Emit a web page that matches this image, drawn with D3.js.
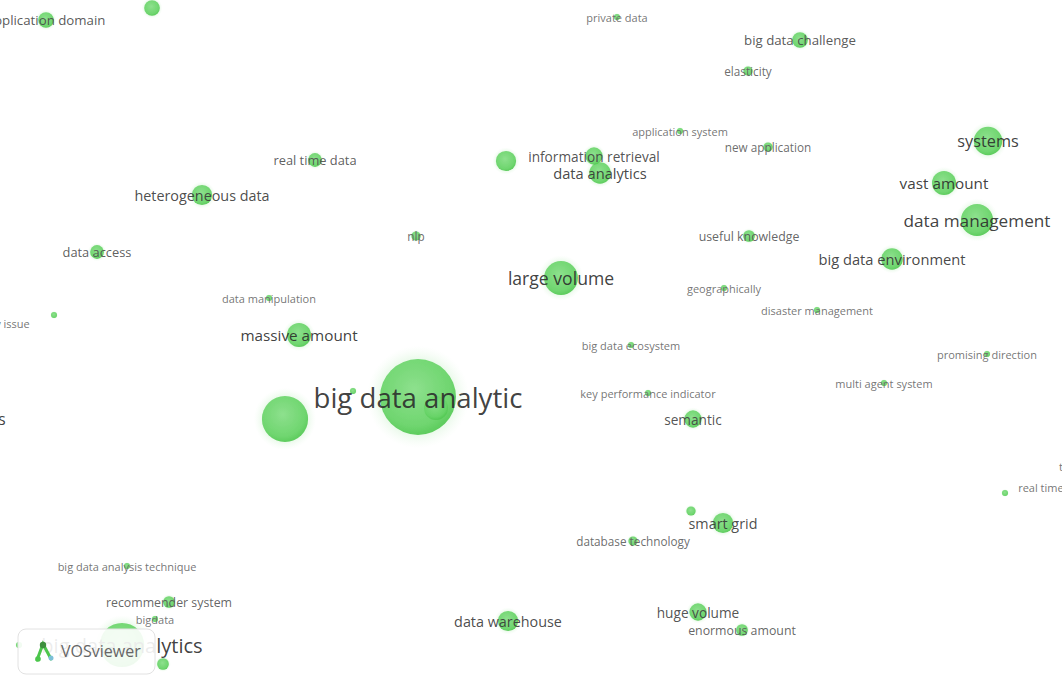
<!DOCTYPE html>
<html><head><meta charset="utf-8">
<script src="https://cdn.jsdelivr.net/npm/d3@7/dist/d3.min.js"></script>
<style>html,body{margin:0;padding:0;background:#fff;overflow:hidden}svg{display:block}</style>
</head><body>
<svg id="map" width="1062" height="676"></svg>
<script>
// VOSviewer term map (zoomed view) – map coordinates and occurrence weights
const labels = [
 "application domain","","private data","big data challenge","elasticity","application system",
 "new application","systems","real time data","information retrieval","data analytics","",
 "heterogeneous data","vast amount","data management","data access","nlp","useful knowledge",
 "big data environment","large volume","geographically","disaster management","data manipulation","privacy issue",
 "","massive amount","big data ecosystem","promising direction","multi agent system","key performance indicator",
 "big data analytic","","","big data applications","semantic","",
 "real time processing","text mining","smart grid","","database technology","big data analysis technique",
 "recommender system","bigdata","big data analytics","","data warehouse","huge volume",
 "enormous amount","",""
];
const mapX = [
 -4.85,-3.79, 0.86, 2.69, 2.17, 1.49,
  2.37, 4.57,-2.16, 0.63, 0.69,-0.25,
 -3.29, 4.13, 4.46,-4.34,-1.15, 2.18,
  3.61, 0.30, 1.93, 2.86,-2.62,-5.34,
 -4.77,-2.32, 1.00, 4.56, 3.53, 1.17,
 -1.13,-2.46,-0.95,-6.00, 1.62, 4.74,
  5.39, 5.57, 1.92, 1.60, 1.02,-4.04,
 -3.62,-3.76,-4.09,-3.68,-0.23, 1.67,
  2.11,-5.12,-1.78
];
const mapY = [
  3.18, 3.30, 3.21, 2.98, 2.67, 2.07,
  1.91, 1.97, 1.78, 1.82, 1.65, 1.77,
  1.43, 1.55, 1.18, 0.86, 1.02, 1.02,
  0.79, 0.60, 0.50, 0.28, 0.40, 0.15,
  0.23, 0.03,-0.07,-0.16,-0.45,-0.55,
 -0.59,-0.81,-0.70,-0.81,-0.81,-1.55,
 -1.49,-1.28,-1.85,-1.73,-2.03,-2.28,
 -2.64,-2.81,-3.07,-3.26,-2.83,-2.74,
 -2.92,-3.07,-0.53
];
const weights = [
  5, 5, 1, 5, 2, 1,
  2,15, 4, 6, 9, 8,
  8,11,19, 4, 2, 3,
  9,21, 1, 1, 1, 1,
  1,11, 1, 1, 1, 1,
100,38,11,12, 6, 1,
  1, 1, 8, 2, 2, 1,
  3, 1,35, 3, 8, 6,
  3, 1, 1
];

const W = 1062, H = 676;
const svg = d3.select("#map");
const x = d3.scaleLinear().domain([-5.31, 5.31]).range([0, W]);
const y = d3.scaleLinear().domain([3.38, -3.38]).range([0, H]);
const r = d3.scaleSqrt().domain([1, 100]).range([3, 38]);
const fontSize = d3.scaleLinear().domain([3, 38]).range([11, 27.6]);
const labelShade = d3.scaleLinear().domain([3, 12]).range(["#666666", "#2a2a2a"]).clamp(true);

const nodes = labels.map((l, i) => ({label: l, x: mapX[i], y: mapY[i], w: weights[i]}))
  .sort((a, b) => b.w - a.w);

const defs = svg.append("defs");
const grad = defs.append("radialGradient").attr("id", "ng").attr("cx", "45%").attr("cy", "40%").attr("r", "60%");
grad.append("stop").attr("offset", "0%").attr("stop-color", "#86de86");
grad.append("stop").attr("offset", "80%").attr("stop-color", "#66d366");
grad.append("stop").attr("offset", "100%").attr("stop-color", "#52c852");
const halo = defs.append("radialGradient").attr("id", "halo");
halo.append("stop").attr("offset", "65%").attr("stop-color", "#a6e8a6").attr("stop-opacity", 0.35);
halo.append("stop").attr("offset", "100%").attr("stop-color", "#d8f5d8").attr("stop-opacity", 0);
defs.append("filter").attr("id", "soft").append("feGaussianBlur").attr("stdDeviation", 0.6);

const gN = svg.append("g");
gN.selectAll("circle.halo").data(nodes).join("circle").attr("class", "halo")
  .attr("cx", d => x(d.x)).attr("cy", d => y(d.y)).attr("r", d => r(d.w) * 1.35)
  .attr("fill", "url(#halo)");
gN.selectAll("circle.node").data(nodes).join("circle").attr("class", "node")
  .attr("cx", d => x(d.x)).attr("cy", d => y(d.y)).attr("r", d => r(d.w))
  .attr("fill", "url(#ng)").attr("fill-opacity", 0.92).attr("filter", "url(#soft)");

const gL = svg.append("g");
gL.selectAll("text").data(nodes.filter(d => d.label)).join("text")
  .attr("x", d => x(d.x)).attr("y", d => y(d.y))
  .attr("text-anchor", "middle").attr("dominant-baseline", "central")
  .attr("font-family", "'Open Sans', sans-serif")
  .attr("font-size", d => fontSize(r(d.w)))
  .attr("fill", d => labelShade(r(d.w))).attr("fill-opacity", 0.9)
  .text(d => d.label);

// VOSviewer logo box
const logo = svg.append("g");
logo.append("rect").attr("x", 18).attr("y", 629).attr("width", 137).attr("height", 45)
  .attr("rx", 8).attr("fill", "#ffffff").attr("fill-opacity", 0.9)
  .attr("stroke", "#e2e2e2").attr("stroke-width", 1);
const ic = logo.append("g").attr("transform", "translate(44,651)");
ic.append("path").attr("d", "M-7,9 L-1,-7 L7,8").attr("fill", "none").attr("stroke", "#4cc64c").attr("stroke-width", 3).attr("stroke-linecap", "round");
ic.append("circle").attr("cx", -1).attr("cy", -6).attr("r", 3.2).attr("fill", "#3d8f3d");
ic.append("circle").attr("cx", -6).attr("cy", 8).attr("r", 2.8).attr("fill", "#4cc64c");
ic.append("circle").attr("cx", 7).attr("cy", 7).attr("r", 2.5).attr("fill", "#7cc0d8");
logo.append("text").attr("x", 61).attr("y", 651).attr("dominant-baseline", "central")
  .attr("font-family", "'Open Sans', sans-serif").attr("font-size", 16)
  .attr("fill", "#666666").text("VOSviewer");
</script>
</body></html>
